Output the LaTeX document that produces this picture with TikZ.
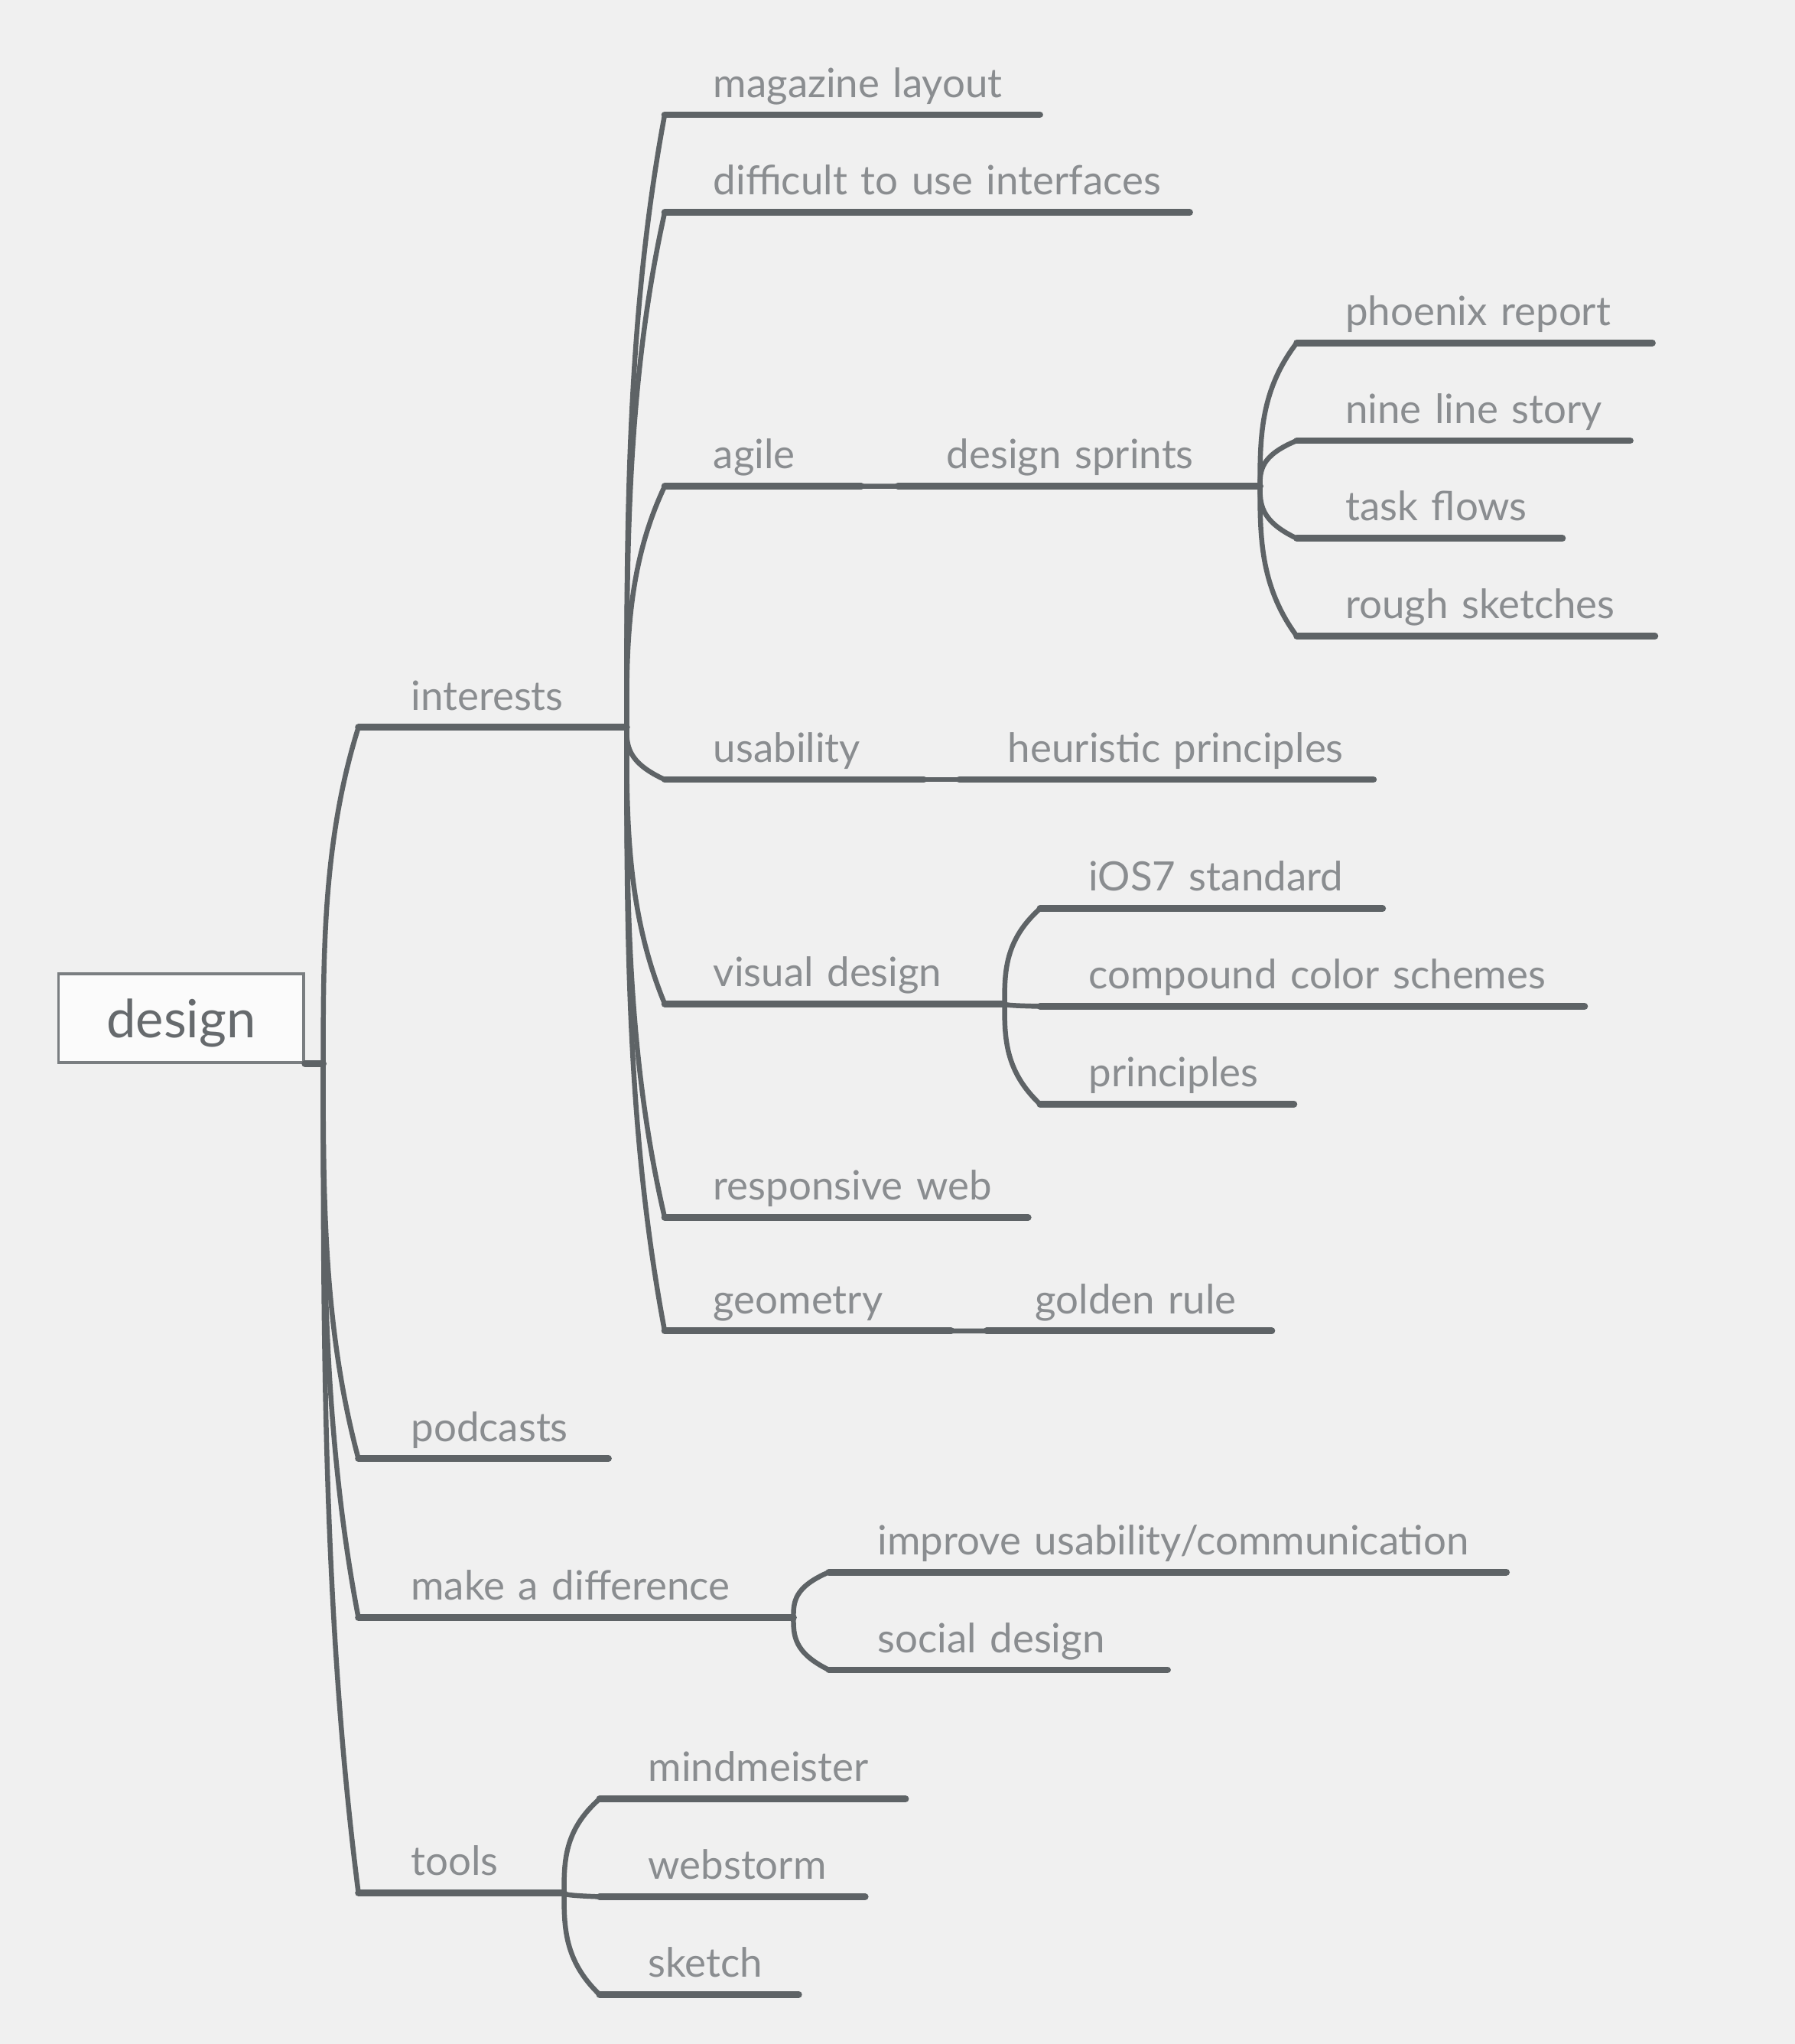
\documentclass[tikz,border=0pt]{standalone}
\usepackage{fontspec}
\setmainfont{Lato}
\usetikzlibrary{calc}

\definecolor{bggray}{HTML}{F0F0F0}
\definecolor{linegray}{HTML}{5E6366}
\definecolor{txtgray}{HTML}{8A8D90}
\definecolor{boxgray}{HTML}{7A7E81}
\definecolor{boxfill}{HTML}{FBFBFB}
\definecolor{rootgray}{HTML}{666A6D}

\tikzset{
  rootbox/.style={draw=boxgray, fill=boxfill, line width=1pt, minimum width=94pt,
    minimum height=34pt, inner sep=0pt, text height=16.5pt, text depth=1.5pt,
    text=rootgray, font=\fontsize{20.2}{24}\selectfont},
  topic/.style={anchor=south west, inner sep=0pt, text depth=6.5pt, align=left,
    text=txtgray, font=\fontsize{15.5}{18}\selectfont, execute at begin node=\hspace*{#1}},
  topic/.default=18.5pt,
  uline/.style={draw=linegray, line width=2.6pt, line cap=round},
  branch/.style={draw=linegray, line width=1.9pt,
    to path={let \p1=(\tikztostart), \p2=(\tikztotarget),
      \p3=($(\p1)!0.333!(\p2)$), \p4=($(\p1)!0.667!(\p2)$)
      in .. controls (\x1,\y3) and (\x1,\y4) .. (\tikztotarget)}},
}

\begin{document}
\begin{tikzpicture}[x=0.5pt, y=-0.5pt]
    % Background and page size
    \fill[bggray] (0,0) rectangle (1377,1568);

    % Central topic
    \node[rootbox] (design) at (139,781) {design};

    % Main topics
    \node[topic=20pt, text width=92pt] (interests) at (275,558) {interests};
    \node[topic=20pt, text width=95.5pt] (podcasts) at (275,1119) {podcasts};
    \node[topic=20pt, text width=156pt] (difference) at (275,1241) {make a difference};
    \node[topic=20pt, text width=67pt] (tools) at (275,1452) {tools};

    % Interests
    \node[topic, text width=143.5pt] (magazine) at (510,88) {magazine layout};
    \node[topic, text width=201pt] (difficult) at (510,163) {difficult to use interfaces};
    \node[topic, text width=64pt] (agile) at (510,373) {agile};
    \node[topic, text width=88pt] (usability) at (510,598) {usability};
    \node[topic, text width=119.5pt] (visual) at (510,770) {visual design};
    \node[topic, text width=139pt] (responsive) at (510,934) {responsive web};
    \node[topic, text width=98.5pt] (geometry) at (510,1021) {geometry};

    % Agile
    \node[topic, text width=127.5pt] (sprints) at (689,373) {design sprints};
    \node[topic, text width=136pt] (phoenix) at (995,263) {phoenix report};
    \node[topic, text width=127.5pt] (nineline) at (995,338) {nine line story};
    \node[topic, text width=101.5pt] (taskflows) at (995,413) {task flows};
    \node[topic, text width=137pt] (rough) at (995,488) {rough sketches};

    % Usability, visual design, geometry
    \node[topic, text width=158.5pt] (heuristic) at (736,598) {heuristic principles};
    \node[topic, text width=131pt] (ios) at (798,697) {iOS7 standard};
    \node[topic, text width=208.5pt] (compound) at (798,772) {compound color schemes};
    \node[topic, text width=97pt] (principles) at (798,847) {principles};
    \node[topic, text width=109pt] (golden) at (757,1021) {golden rule};

    % Make a difference
    \node[topic, text width=259.5pt] (improve) at (636,1206) {improve usability/communication};
    \node[topic, text width=129.5pt] (social) at (636,1281) {social design};

    % Tools
    \node[topic, text width=117pt] (mindmeister) at (460,1380) {mindmeister};
    \node[topic, text width=101.5pt] (webstorm) at (460,1455) {webstorm};
    \node[topic, text width=76pt] (sketch) at (460,1530) {sketch};

    % Junctions
    \coordinate (design-j) at ([xshift=7pt]design.south east);
    \coordinate (interests-j) at ([xshift=10.5pt]interests.south east);
    \coordinate (agile-j) at ([xshift=11pt]agile.south east);
    \coordinate (sprints-j) at ([xshift=11pt]sprints.south east);
    \coordinate (usability-j) at ([xshift=11pt]usability.south east);
    \coordinate (visual-j) at ([xshift=10.5pt]visual.south east);
    \coordinate (geometry-j) at ([xshift=11pt]geometry.south east);
    \coordinate (difference-j) at ([xshift=10.5pt]difference.south east);
    \coordinate (tools-j) at ([xshift=11.5pt]tools.south east);

    % Branches
    \foreach \tp in {interests,podcasts,difference,tools}
        \draw[branch] (design-j) to (\tp.south west);
    \foreach \tp in {magazine,difficult,agile,usability,visual,responsive,geometry}
        \draw[branch] (interests-j) to (\tp.south west);
    \foreach \tp in {phoenix,nineline,taskflows,rough}
        \draw[branch] (sprints-j) to (\tp.south west);
    \foreach \tp in {ios,compound,principles}
        \draw[branch] (visual-j) to (\tp.south west);
    \foreach \tp in {improve,social}
        \draw[branch] (difference-j) to (\tp.south west);
    \foreach \tp in {mindmeister,webstorm,sketch}
        \draw[branch] (tools-j) to (\tp.south west);
    \draw[branch] (agile-j) to (sprints.south west);
    \draw[branch] (usability-j) to (heuristic.south west);
    \draw[branch] (geometry-j) to (golden.south west);

    % Underlines
    \draw[uline] (design.south east) -- (design-j);
    \foreach \tp in {interests,agile,sprints,usability,visual,geometry,difference,tools}
        \draw[uline] (\tp.south east) -- (\tp-j);
    \foreach \tp in {interests,podcasts,difference,tools,magazine,difficult,agile,
        usability,visual,responsive,geometry,sprints,phoenix,nineline,taskflows,
        rough,heuristic,ios,compound,principles,golden,improve,social,
        mindmeister,webstorm,sketch}
        \draw[uline] (\tp.south west) -- (\tp.south east);
\end{tikzpicture}
\end{document}
